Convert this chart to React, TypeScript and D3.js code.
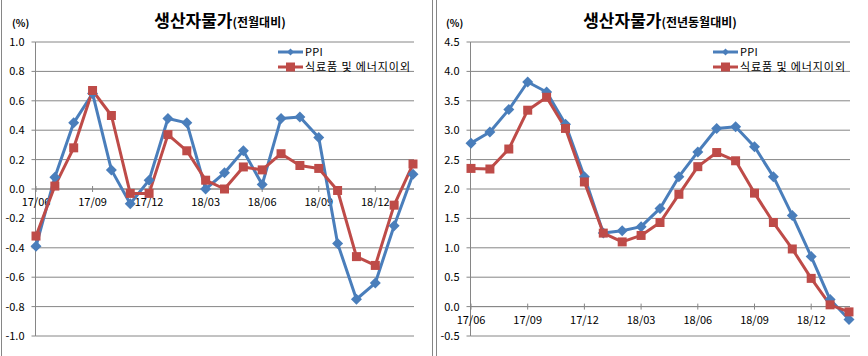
import React from "react";
import * as d3 from "d3";

const months = [
  "17/06","17/07","17/08","17/09","17/10","17/11","17/12",
  "18/01","18/02","18/03","18/04","18/05","18/06","18/07","18/08","18/09","18/10","18/11","18/12",
  "19/01","19/02",
];
const tickMonths = ["17/06", "17/09", "17/12", "18/03", "18/06", "18/09", "18/12"];

const momPPI = [-0.39, 0.08, 0.45, 0.65, 0.13, -0.10, 0.06, 0.48, 0.45, 0.0, 0.11, 0.26, 0.03, 0.48, 0.49, 0.35, -0.37, -0.75, -0.64, -0.25, 0.10];
const momCore = [-0.32, 0.02, 0.28, 0.67, 0.50, -0.03, -0.03, 0.37, 0.26, 0.06, 0.0, 0.15, 0.13, 0.24, 0.16, 0.14, -0.01, -0.46, -0.52, -0.11, 0.17];

const yoyPPI = [2.78, 2.97, 3.35, 3.82, 3.65, 3.10, 2.21, 1.25, 1.29, 1.36, 1.67, 2.21, 2.63, 3.03, 3.06, 2.72, 2.21, 1.55, 0.85, 0.12, -0.22];
const yoyCore = [2.35, 2.34, 2.68, 3.34, 3.56, 3.03, 2.12, 1.25, 1.10, 1.21, 1.43, 1.91, 2.38, 2.62, 2.48, 1.93, 1.43, 0.98, 0.48, 0.03, -0.09];

const momTicks = [1.0, 0.8, 0.6, 0.4, 0.2, 0.0, -0.2, -0.4, -0.6, -0.8, -1.0];
const yoyTicks = [4.5, 4.0, 3.5, 3.0, 2.5, 2.0, 1.5, 1.0, 0.5, 0.0, -0.5];

const seriesNames = ["PPI", "식료품 및 에너지이외"];
const BLUE = "#4A7EBB";
const RED = "#BE4B48";
const GRID = "#868686";
const FONT = "'Noto Sans CJK KR', 'Noto Sans', sans-serif";

type PanelProps = {
  x0: number;
  x1: number;
  axisX: number;
  yDomain: [number, number];
  ticks: number[];
  ppi: number[];
  core: number[];
  titleMain: string;
  titleSub: string;
  titleX: number;
  legendX: number;
  pctX: number;
};

const diamond = "M0,-5.5L5.5,0L0,5.5L-5.5,0Z";
const square = "M-4.5,-4.5H4.5V4.5H-4.5Z";

function Panel(p: PanelProps) {
  const top = 42, bottom = 336;
  const x = d3.scalePoint<string>().domain(months).range([p.x0, p.x1]);
  const y = d3.scaleLinear().domain(p.yDomain).range([bottom, top]);
  const line = d3
    .line<number>()
    .x((_, i) => x(months[i]) as number)
    .y((d) => y(d));
  const y0 = y(0);
  const gridRight = p.x1 + 1;
  return (
    <g fontFamily={FONT}>
      <text x={p.titleX} y={27} textAnchor="middle" fill="#000">
        <tspan fontSize={17} fontWeight="bold">{p.titleMain}</tspan>
        <tspan fontSize={12} fontWeight="bold">{p.titleSub}</tspan>
      </text>
      <text x={p.pctX} y={27} fontSize={10} fontWeight="bold" fill="#000">(%)</text>
      {p.ticks.map((t) => (
        <g key={t}>
          <line x1={p.axisX} x2={gridRight} y1={y(t)} y2={y(t)} stroke={GRID} strokeWidth={1} />
          <line x1={p.axisX - 4} x2={p.axisX} y1={y(t)} y2={y(t)} stroke={GRID} strokeWidth={1} />
          <text x={p.axisX - 11} y={y(t) + 4} fontSize={11} textAnchor="end" fill="#000">
            {t.toFixed(1)}
          </text>
        </g>
      ))}
      <line x1={p.axisX} x2={p.axisX} y1={top} y2={bottom} stroke={GRID} strokeWidth={1} />
      <line x1={p.axisX} x2={gridRight} y1={y0} y2={y0} stroke={GRID} strokeWidth={1} />
      {tickMonths.map((m) => (
        <g key={m}>
          <line x1={(x(m) as number)} x2={(x(m) as number)} y1={y0 - 3} y2={y0 + 3} stroke={GRID} />
          <text x={x(m) as number} y={y0 + 17} fontSize={11} textAnchor="middle" fill="#000">
            {m}
          </text>
        </g>
      ))}
      <path d={line(p.ppi) || ""} fill="none" stroke={BLUE} strokeWidth={3} strokeLinejoin="round" />
      <path d={line(p.core) || ""} fill="none" stroke={RED} strokeWidth={3} strokeLinejoin="round" />
      {p.ppi.map((v, i) => (
        <path key={"b" + i} d={diamond} transform={`translate(${x(months[i])},${y(v)})`} fill={BLUE} />
      ))}
      {p.core.map((v, i) => (
        <path key={"r" + i} d={square} transform={`translate(${x(months[i])},${y(v)})`} fill={RED} />
      ))}
      {[0, 1].map((k) => {
        const ly = k === 0 ? 52 : 67;
        const col = k === 0 ? BLUE : RED;
        return (
          <g key={k}>
            <line x1={p.legendX} x2={p.legendX + 25} y1={ly} y2={ly} stroke={col} strokeWidth={3} />
            {k === 0 ? (
              <path d="M0,-3.5L3.5,0L0,3.5L-3.5,0Z" transform={`translate(${p.legendX + 12.5},${ly})`} fill={col} />
            ) : (
              <path d={square} transform={`translate(${p.legendX + 12.5},${ly})`} fill={col} />
            )}
            <text x={p.legendX + 27} y={ly + 4} fontSize={11} letterSpacing={k === 1 ? 0.9 : 0.3} fill="#000">
              {seriesNames[k]}
            </text>
          </g>
        );
      })}
    </g>
  );
}

export default function App() {
  return (
    <svg
      width={868}
      height={356}
      style={{ position: "absolute", left: 0, top: 0, background: "#fff" }}
    >
      <rect x={0} y={0} width={868} height={356} fill="#fff" />
      <line x1={1.5} x2={1.5} y1={0} y2={356} stroke={GRID} />
      <line x1={432.5} x2={432.5} y1={0} y2={356} stroke={GRID} />
      <line x1={436.5} x2={436.5} y1={0} y2={356} stroke={GRID} />
      <Panel
        x0={36}
        x1={413}
        axisX={35.5}
        yDomain={[-1, 1]}
        ticks={momTicks}
        ppi={momPPI}
        core={momCore}
        titleMain="생산자물가"
        titleSub="(전월대비)"
        titleX={220}
        legendX={278}
        pctX={12}
      />
      <Panel
        x0={471}
        x1={849}
        axisX={470.5}
        yDomain={[-0.5, 4.5]}
        ticks={yoyTicks}
        ppi={yoyPPI}
        core={yoyCore}
        titleMain="생산자물가"
        titleSub="(전년동월대비)"
        titleX={660}
        legendX={713}
        pctX={446}
      />
    </svg>
  );
}
